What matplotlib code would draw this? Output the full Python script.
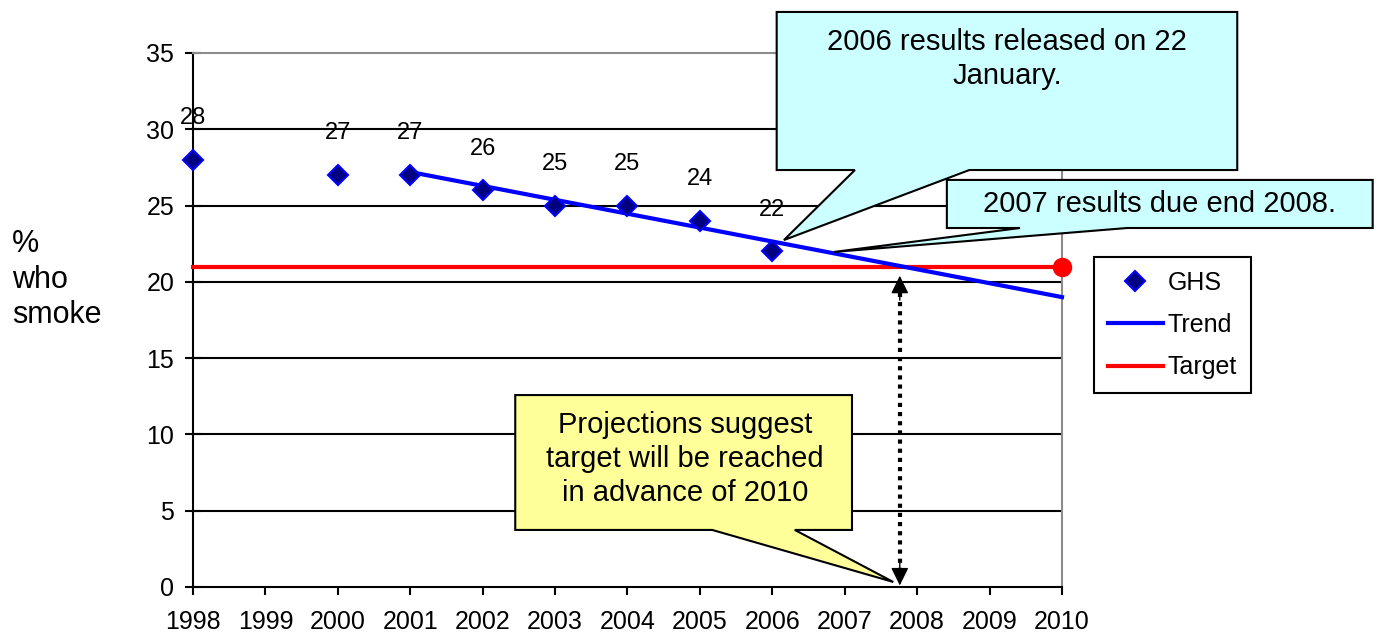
import matplotlib
matplotlib.use("Agg")
import matplotlib.pyplot as plt
from matplotlib.patches import Polygon
from matplotlib.lines import Line2D

plt.rcParams['font.family'] = ['Liberation Sans', 'DejaVu Sans']

# ---- data ----
years = list(range(1998, 2011))
ghs_years = [1998, 2000, 2001, 2002, 2003, 2004, 2005, 2006]
ghs_vals = [28, 27, 27, 26, 25, 25, 24, 22]
trend_years = [2001, 2010]
trend_vals = [27.2, 19.0]
target_years = [1998, 2010]
target_vals = [21, 21]
reach_year = 2007.76   # where trend crosses target
yticks = [0, 5, 10, 15, 20, 25, 30, 35]

W, H = 1375, 635
fig = plt.figure(figsize=(W / 100, H / 100), dpi=100)
ax = fig.add_axes([193 / W, 1 - 587 / H, 869 / W, 534 / H])

ax.set_xlim(1998, 2010)
ax.set_ylim(0, 35)
ax.set_xticks(years)
ax.set_xticklabels([str(y) for y in years], fontsize=18)
ax.set_yticks(yticks)
ax.set_yticklabels([str(v) for v in yticks], fontsize=18)
ax.tick_params(axis='y', direction='inout', length=11, width=1.5, pad=8)
ax.tick_params(axis='x', direction='out', length=6, width=1.5, pad=10.5)

for s in ['left', 'bottom']:
    ax.spines[s].set_color('black')
    ax.spines[s].set_linewidth(1.5)
for s in ['top', 'right']:
    ax.spines[s].set_color('#8c8c8c')
    ax.spines[s].set_linewidth(1.5)

# gridlines (not at 0 / 35, those are the frame)
for v in yticks[1:-1]:
    ax.axhline(v, color='black', lw=1.5, zorder=1)

# target
ax.plot(target_years, target_vals, color='#ff0000', lw=3, zorder=3, clip_on=False)
ax.plot(target_years[-1], target_vals[-1], 'o', color='#ff0000', ms=13, zorder=4, clip_on=False)
# trend
ax.plot(trend_years, trend_vals, color='#0000ff', lw=3, zorder=3, clip_on=False)
# GHS points
ax.plot(ghs_years, ghs_vals, 'D', ls='none', ms=10.5, mfc='#000080', mec='#0000ff',
        mew=1.5, zorder=4, clip_on=False)
for x, v in zip(ghs_years, ghs_vals):
    ax.annotate(str(v), (x, v), xytext=(0, 30), textcoords='offset points',
                ha='center', va='center', fontsize=17, zorder=4)

# dotted double arrow
ax.plot([reach_year, reach_year], [1.0, 19.4], color='black', lw=3,
        ls=(0, (1, 1.2)), zorder=5)
head = dict(arrowstyle='-|>,head_length=0.55,head_width=0.27', mutation_scale=20,
            color='black', lw=1, shrinkA=0, shrinkB=0)
ax.annotate('', xy=(reach_year, 20.4), xytext=(reach_year, 18.8), arrowprops=head, zorder=5)
ax.annotate('', xy=(reach_year, 0.1), xytext=(reach_year, 1.7), arrowprops=head, zorder=5)


def callout(box, base, tip, face, z):
    x0, x1, ytop, ybot = box
    verts = [(x0, ytop), (x1, ytop), (x1, ybot), (base[1], ybot), tip,
             (base[0], ybot), (x0, ybot)]
    p = Polygon(verts, closed=True, facecolor=face, edgecolor='black', lw=1.5,
                zorder=z, clip_on=False)
    ax.add_patch(p)


callout((2006.06, 2012.42, 37.69, 27.33), (2007.14, 2008.72), (2006.16, 22.74), '#ccffff', 6)
ax.text(2009.24, 36.62, '2006 results released on 22\nJanuary.', ha='center', va='top',
        fontsize=21, linespacing=1.28, zorder=7)

callout((2008.41, 2014.29, 26.68, 23.53), (2009.42, 2010.90), (2006.85, 21.96), '#ccffff', 8)
ax.text(2011.35, 25.1, '2007 results due end 2008.', ha='center', va='center',
        fontsize=21, zorder=9)

callout((2002.45, 2007.10, 12.58, 3.74), (2005.17, 2006.31), (2007.67, 0.33), '#ffff99', 6)
ax.text(2004.79, 8.4, 'Projections suggest\ntarget will be reached\nin advance of 2010',
        ha='center', va='center', fontsize=21, linespacing=1.27, zorder=7)

# y label
fig.text(12 / W, 1 - 229 / H, '%\nwho\nsmoke', ha='left', va='top', fontsize=22,
         linespacing=1.24)

# legend
handles = [Line2D([], [], marker='D', ls='none', ms=10.5, mfc='#000080', mec='#0000ff', mew=1.5),
           Line2D([], [], color='#0000ff', lw=3),
           Line2D([], [], color='#ff0000', lw=3)]
leg = fig.legend(handles, ['GHS', 'Trend', 'Target'], loc='upper left',
                 bbox_to_anchor=(1094 / W, 1 - 257 / H), bbox_transform=fig.transFigure,
                 borderaxespad=0, fontsize=18, handlelength=2.2, handletextpad=0.2,
                 labelspacing=0.73, borderpad=0.55, fancybox=False, framealpha=1,
                 edgecolor='black', numpoints=1)
leg.get_frame().set_linewidth(1.5)

fig.savefig('out.png', dpi=100)
